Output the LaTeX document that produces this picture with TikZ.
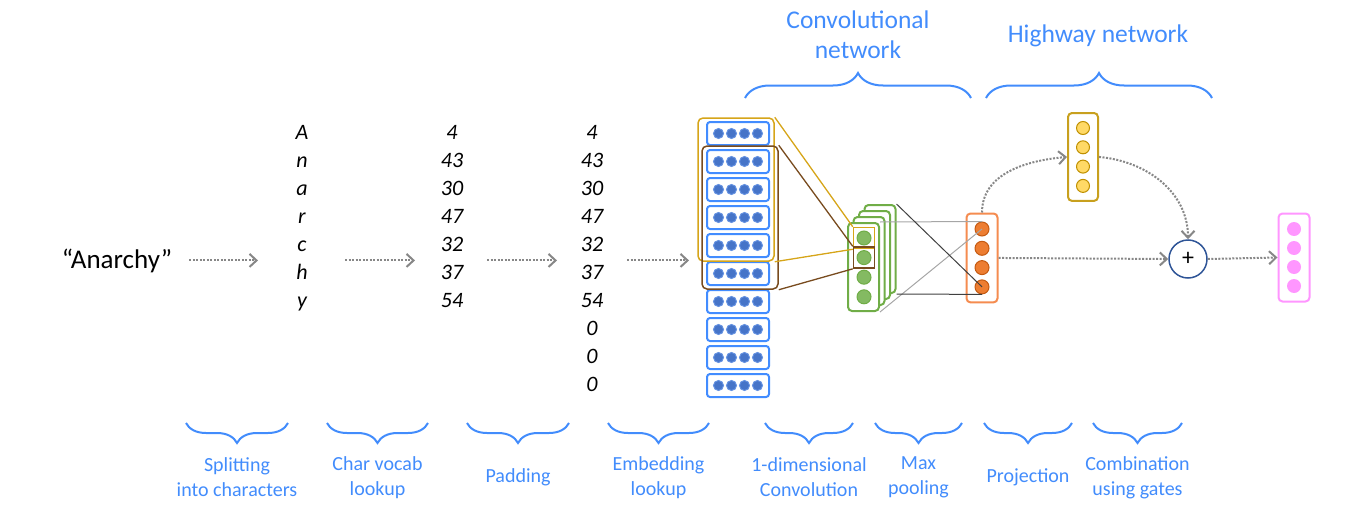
\documentclass[tikz,border=0pt]{standalone}
\usepackage{fontspec}
\setmainfont{Carlito}
\usetikzlibrary{arrows.meta,decorations.pathreplacing,fit}

\definecolor{lblblue}{RGB}{66,140,252}
\definecolor{embline}{RGB}{66,140,255}
\definecolor{embfill}{RGB}{70,116,200}
\definecolor{embedge}{RGB}{100,145,225}
\definecolor{wingold}{RGB}{214,165,25}
\definecolor{winbrown}{RGB}{120,75,30}
\definecolor{convgreen}{RGB}{112,173,71}
\definecolor{convfill}{RGB}{132,186,98}
\definecolor{projline}{RGB}{245,140,80}
\definecolor{projfill}{RGB}{237,125,49}
\definecolor{projedge}{RGB}{197,90,17}
\definecolor{gateline}{RGB}{200,160,30}
\definecolor{gatefill}{RGB}{255,217,102}
\definecolor{gateedge}{RGB}{191,144,0}
\definecolor{plusblue}{RGB}{47,85,151}
\definecolor{outpink}{RGB}{255,150,255}
\definecolor{flowgray}{RGB}{135,135,135}

\begin{document}
\begin{tikzpicture}[x=1pt,y=-1pt,
    flow/.style={draw=flowgray,line width=2pt,dash pattern=on 2pt off 1.5pt,
      -{Straight Barb[length=7pt,width=13pt,line width=2pt]}},
    cell/.style={anchor=base,inner sep=0pt,font=\fontsize{22}{25}\selectfont\itshape},
    lbl/.style={align=center,text=lblblue,font=\fontsize{20}{25}\selectfont},
    toplbl/.style={align=center,text=lblblue,font=\fontsize{25.5}{30}\selectfont},
    brace/.style={draw=lblblue,line width=2pt,decorate,decoration={brace,amplitude=#1}},
    embbox/.style={draw=embline,line width=2pt,rounded corners=3pt,minimum width=62pt,minimum height=23pt},
    win/.style={draw=#1,line width=1.5pt,rounded corners=5pt,inner xsep=6pt,inner ysep=3pt},
    layer/.style={draw=#1,fill=white,line width=2pt,rounded corners=4pt,inner sep=8pt},
    fmap/.style={draw=convgreen,fill=white,line width=2pt,rounded corners=4pt,minimum width=31pt,minimum height=88pt},
    unit/.style={circle,inner sep=0pt,minimum size=14pt,line width=1pt},
    sel/.style={draw=#1,line width=1.5pt,inner sep=3pt}]
\useasboundingbox (0,0) rectangle (1351,527);

\node[anchor=base,inner sep=0pt,font=\fontsize{27}{32}\selectfont] (word) at (117,268) {``Anarchy''};

\foreach \c [count=\i] in {A,n,a,r,c,h,y}
  \node[cell] (ch\i) at (302,111.5+28*\i) {\c};
\foreach \c [count=\i] in {4,43,30,47,32,37,54}
  \node[cell] (num\i) at (452,111.5+28*\i) {\c};
\foreach \c [count=\i] in {4,43,30,47,32,37,54,0,0,0}
  \node[cell] (pad\i) at (592,111.5+28*\i) {\c};

\foreach \i in {1,...,10}{
  \node[embbox] (emb\i) at (738,105.5+28*\i) {};
  \foreach \j in {0,...,3}
    \filldraw[fill=embfill,draw=embedge,line width=1pt] ([xshift=-19.5pt+13pt*\j]emb\i.center) circle (5pt);
}
\node[win=wingold,xshift=-2pt,fit=(emb1)(emb5)] (winA) {};
\node[win=winbrown,xshift=2pt,fit=(emb2)(emb6)] (winB) {};

\draw[flow] ([xshift=17pt]word.east) -- ([xshift=-44pt]word.east -| ch1);
\draw[flow] ([xshift=43pt]word.east -| ch1) -- ([xshift=-37pt]word.east -| num1);
\draw[flow] ([xshift=35pt]word.east -| num1) -- ([xshift=-35pt]word.east -| pad1);
\draw[flow] ([xshift=35pt]word.east -| pad1) -- ([xshift=-17pt]word.east -| emb1.west);

\node[fmap] (fm4) at (880,249) {};
\node[fmap] (fm3) at (874.5,255) {};
\node[fmap] (fm2) at (869,261) {};
\node[fmap] (fm1) at (863.5,267) {};
\foreach \i in {1,...,4}
  \node[unit,fill=convfill,draw=convgreen] (g\i) at (864,218.4+19.6*\i) {};
\node[sel=wingold,fit=(g1)] (selA) {};
\node[sel=winbrown,fit=(g2)] (selB) {};

\draw[wingold,line width=1.3pt] (winA.north east) -- (selA.north west);
\draw[wingold,line width=1.3pt] (winA.south east) -- (selA.south west);
\draw[winbrown,line width=1.3pt] (winB.north east) -- (selB.north west);
\draw[winbrown,line width=1.3pt] (winB.south east) -- (selB.south west);

\foreach \i in {1,...,4}
  \node[unit,fill=projfill,draw=projedge] (o\i) at (982,209.7+19.3*\i) {};
\node[layer=projline,fit=(o1)(o4)] (proj) {};
\foreach \i in {1,...,4}
  \node[unit,fill=projfill,draw=projedge] at (o\i) {};

\draw[black!35,line width=1pt] (fm1.north east) -- (o1.north);
\draw[black!35,line width=1pt] (fm1.south east) -- (o1.center);
\draw[black!75,line width=1pt] (fm4.north east) -- (o4.center);
\draw[black!75,line width=1pt] (fm4.south east) -- (o4.south);

\foreach \i in {1,...,4}
  \node[unit,minimum size=13pt,fill=gatefill,draw=gateedge] (h\i) at (1083,108.7+19.3*\i) {};
\node[layer=gateline,fit=(h1)(h4)] (gate) {};
\foreach \i in {1,...,4}
  \node[unit,minimum size=13pt,fill=gatefill,draw=gateedge] at (h\i) {};

\foreach \i in {1,...,4}
  \node[unit,fill=outpink] (p\i) at (1294,210+19*\i) {};
\node[layer=outpink,fit=(p1)(p4)] (out) {};
\foreach \i in {1,...,4}
  \node[unit,fill=outpink] at (p\i) {};

\node[circle,draw=plusblue,line width=1.5pt,minimum size=38pt,inner sep=0pt,
  font=\fontsize{24}{24}\selectfont] (plus) at (1188,259) {+};

\draw[flow] (proj.east) -- (plus.west);
\draw[flow] (plus.east) -- (out.west);
\draw[flow] (proj.north) to[out=90,in=185] (gate.west);
\draw[flow] (gate.east) to[out=-5,in=90] (plus.north);

\draw[brace=25pt] (745,98) -- (971,98);
\draw[brace=25pt] (986,98) -- (1212,98);
\node[toplbl] (convlbl) at (858,35) {Convolutional\\network};
\node[toplbl] (hwlbl) at (1098,36) {Highway network};

\foreach \l/\r/\t [count=\i] in {186/288/{Splitting\\into characters},327/428/{Char vocab\\lookup},
    467/569/{Padding},608/709/{Embedding\\lookup},765/853/{1-dimensional\\Convolution},
    875/962/{Max\\pooling},984/1072/{Projection},1093/1182/{Combination\\using gates}}{
  \draw[brace=20pt,decoration={mirror}] (\l,423) -- (\r,423);
  \node[lbl] (step\i) at ({(\l+\r)/2},477.5) {\t};
}
\end{tikzpicture}
\end{document}
